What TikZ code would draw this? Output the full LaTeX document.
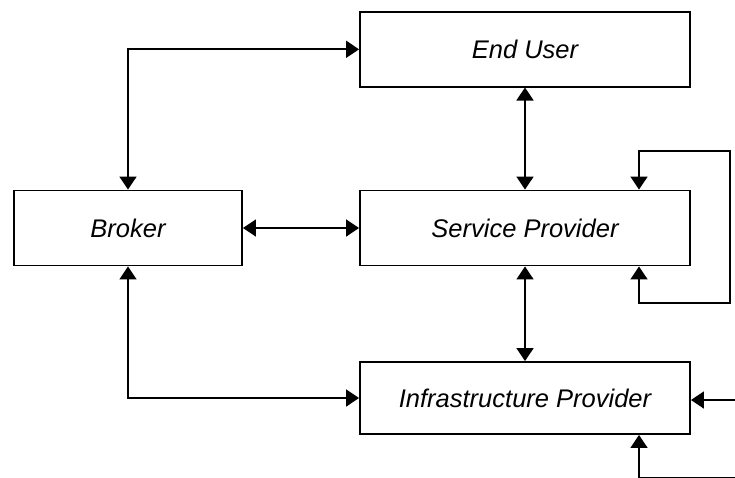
\documentclass[tikz,border=0pt]{standalone}
\usepackage{fontspec}
\setmainfont{Liberation Sans}
\usetikzlibrary{arrows.meta}
\begin{document}
\begin{tikzpicture}[x=1pt,y=-1pt,
  box/.style={draw=black, line width=1.9pt, rectangle, inner sep=0pt,
    minimum width=330pt, minimum height=74pt,
    font=\fontsize{25.5}{30}\selectfont\itshape},
  conn/.style={line width=1.8pt, draw=black,
    arrows={Triangle[length=13pt,width=17pt]-Triangle[length=13pt,width=17pt]}},
  conn1/.style={line width=1.8pt, draw=black,
    -{Triangle[length=13pt,width=17pt]}}]
\useasboundingbox (0,0) rectangle (735,477);
\node[box, minimum width=228pt, minimum height=75pt] (broker) at (128,228) {Broker};
\node[box, minimum height=74.5pt] (eu) at (525,49.3) {End User};
\node[box, minimum height=75pt] (sp) at (525,228) {Service Provider};
\node[box, minimum height=72pt] (ip) at (525,398) {Infrastructure Provider};
\coordinate (lt) at (639,151);
\coordinate (rt) at (730,151);
\coordinate (rb) at (730,303);
\coordinate (lb) at (639,303);
\coordinate (rin) at (737,400);
\coordinate (bc) at (639,478.3);
\coordinate (br) at (737,478.3);
\draw[conn] (broker.north) |- (eu.west);
\draw[conn] (broker.east) -- (sp.west);
\draw[conn] (broker.south) |- (ip.west);
\draw[conn] (eu.south) -- (sp.north);
\draw[conn] (sp.south) -- (ip.north);
\draw[conn] (sp.north -| lt) -- (lt) -- (rt) -- (rb) -- (lb) -- (sp.south -| lb);
\draw[conn1] (rin) -- (rin -| ip.east);
\draw[conn1] (br) -- (bc) -- (ip.south -| bc);
\end{tikzpicture}
\end{document}
